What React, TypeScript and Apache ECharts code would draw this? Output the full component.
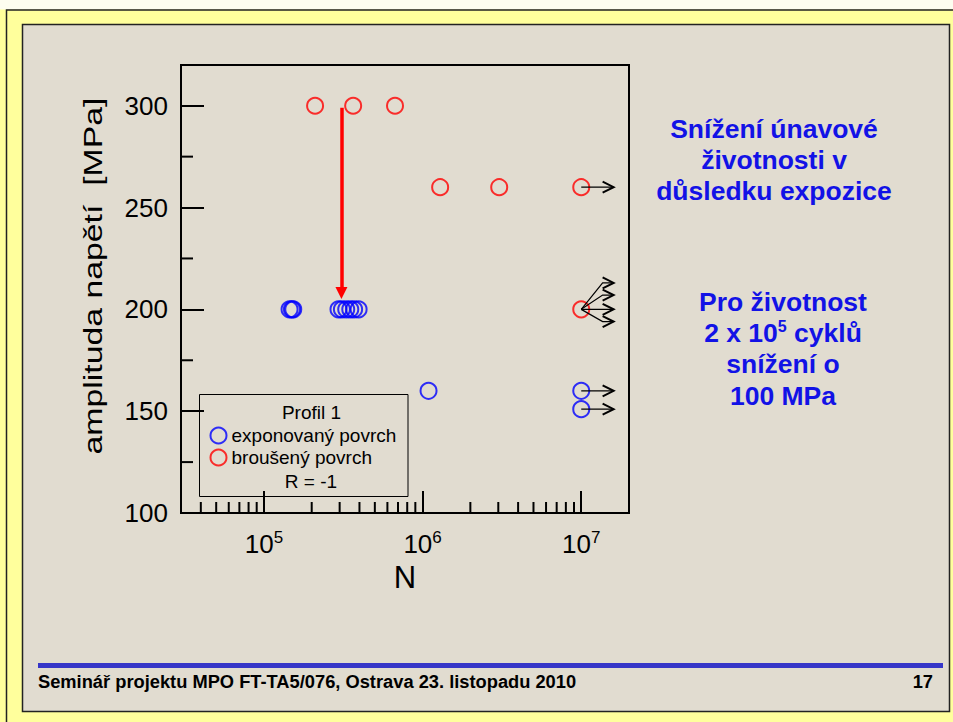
import React, { useEffect, useRef } from 'react';
import * as echarts from 'echarts';

const FONT = 'Arial, "Liberation Sans", Helvetica, sans-serif';

// ---- data ----
const exponovanyN = [1.45e5, 1.5e5, 1.53e5, 2.95e5, 3.1e5, 3.3e5, 3.5e5, 3.7e5, 3.95e5, 1.09e6, 1e7, 1e7];
const exponovanyS = [200, 200, 200, 200, 200, 200, 200, 200, 200, 160, 160, 151];
const brousenyN = [2.1e5, 3.65e5, 6.7e5, 1.29e6, 3.04e6, 1e7, 1e7];
const brousenyS = [300, 300, 300, 260, 260, 260, 200];

// run-out arrows (start N, start S, tip N, tip S)
const runoutStartN = [1e7, 1e7, 1e7, 1e7, 1e7, 1e7, 1e7];
const runoutStartS = [260, 200, 200, 200, 200, 160, 151];
const runoutTipN = [1.6e7, 1.6e7, 1.6e7, 1.6e7, 1.6e7, 1.6e7, 1.6e7];
const runoutTipS = [260, 213, 207, 200, 194, 160, 151];

// red drop arrow
const dropN = 3.08e5;
const dropFromS = 299;
const dropToS = 208;

// axes
const xMin = 3e4;
const xMax = 2e7;
const yMin = 100;
const yMax = 320;
const yInterval = 50;
const xMinorTicks = [
  4e4, 5e4, 6e4, 7e4, 8e4, 9e4,
  2e5, 3e5, 4e5, 5e5, 6e5, 7e5, 8e5, 9e5,
  2e6, 3e6, 4e6, 5e6, 6e6, 7e6, 8e6, 9e6,
];
const yMinorTicks = [125, 175, 225, 275];
const yTitle = 'amplituda napětí  [MPa]';

const BLUE = '#0000ff';
const RED = '#ff0000';
const TEXT_BLUE = '#1212e6';

export default function App() {
  const ref = useRef<HTMLDivElement>(null);

  useEffect(() => {
    if (!ref.current) return;
    const chart = echarts.init(ref.current, undefined, { renderer: 'svg' });

    const center = { align: 'center', verticalAlign: 'middle', textAlign: 'center', textVerticalAlign: 'middle' };

    const option: any = {
      animation: false,
      backgroundColor: '#ffff9c',
      textStyle: { fontFamily: FONT },
      grid: {
        left: 181,
        top: 65,
        width: 448,
        height: 448,
        show: true,
        borderColor: '#000',
        borderWidth: 2,
        backgroundColor: 'transparent',
        containLabel: false,
      },
      xAxis: {
        type: 'log',
        logBase: 10,
        min: xMin,
        max: xMax,
        name: 'N',
        nameLocation: 'middle',
        nameGap: 49,
        nameTextStyle: { fontFamily: FONT, fontSize: 31, color: '#000' },
        axisLine: { show: true, lineStyle: { color: '#000', width: 2 } },
        axisTick: { show: true, inside: true, length: 22, lineStyle: { color: '#000', width: 2 } },
        minorTick: { show: false },
        splitLine: { show: false },
        axisLabel: {
          margin: 16,
          color: '#000',
          showMinLabel: false,
          showMaxLabel: false,
          formatter: (v: number) => {
            const e = Math.log10(v);
            if (Math.abs(e - Math.round(e)) > 1e-6) return '';
            return '{b|10}{s|' + Math.round(e) + '}';
          },
          rich: {
            b: { fontFamily: FONT, fontSize: 26, color: '#000', lineHeight: 30 },
            s: { fontFamily: FONT, fontSize: 17, color: '#000', lineHeight: 17, verticalAlign: 'top' },
          },
        },
      },
      yAxis: {
        type: 'value',
        min: yMin,
        max: yMax,
        interval: yInterval,
        axisLine: { show: true, lineStyle: { color: '#000', width: 2 } },
        axisTick: { show: true, inside: true, length: 23, lineStyle: { color: '#000', width: 2 } },
        minorTick: { show: false },
        splitLine: { show: false },
        axisLabel: {
          margin: 13,
          color: '#000',
          fontFamily: FONT,
          fontSize: 26,
          formatter: (v: number) => (v > 300 ? '' : String(v)),
        },
      },
      legend: {
        selectedMode: false,
        orient: 'vertical',
        left: 209.5,
        top: 426,
        padding: 0,
        itemGap: 3,
        itemWidth: 16,
        itemHeight: 16,
        textStyle: { fontFamily: FONT, fontSize: 19, color: '#000' },
        data: [
          { name: 'exponovaný povrch', icon: 'circle', itemStyle: { color: 'rgba(0,0,0,0)', borderColor: BLUE, borderWidth: 2 } },
          { name: 'broušený povrch', icon: 'circle', itemStyle: { color: 'rgba(0,0,0,0)', borderColor: RED, borderWidth: 2 } },
        ],
      },
      series: [
        {
          name: 'minor x ticks',
          type: 'custom',
          silent: true,
          clip: false,
          z: 3,
          data: xMinorTicks.map((v) => [v, yMin]),
          renderItem: (params: any, api: any) => {
            const p = api.coord([api.value(0), api.value(1)]);
            return {
              type: 'line',
              shape: { x1: p[0], y1: p[1], x2: p[0], y2: p[1] - 11 },
              style: { stroke: '#000', lineWidth: 2 },
            };
          },
        },
        {
          name: 'minor y ticks',
          type: 'custom',
          silent: true,
          clip: false,
          z: 3,
          data: yMinorTicks.map((v) => [xMin, v]),
          renderItem: (params: any, api: any) => {
            const p = api.coord([api.value(0), api.value(1)]);
            return {
              type: 'line',
              shape: { x1: p[0], y1: p[1], x2: p[0] + 12, y2: p[1] },
              style: { stroke: '#000', lineWidth: 2 },
            };
          },
        },
        {
          name: 'runouts',
          type: 'custom',
          silent: true,
          clip: false,
          z: 6,
          data: runoutStartN.map((n, i) => [n, runoutStartS[i], runoutTipN[i], runoutTipS[i]]),
          renderItem: (params: any, api: any) => {
            const a = api.coord([api.value(0), api.value(1)]);
            const b = api.coord([api.value(2), api.value(3)]);
            const L = 11;
            const W = 5.5;
            const base = [b[0] - L, b[1]];
            return {
              type: 'group',
              children: [
                {
                  type: 'polyline',
                  shape: { points: [[a[0], a[1]], base, [b[0], b[1]]] },
                  style: { stroke: '#000', lineWidth: 1.2, fill: 'none' },
                },
                {
                  type: 'polyline',
                  shape: { points: [[b[0] - L, b[1] - W], [b[0], b[1]], [b[0] - L, b[1] + W]] },
                  style: { stroke: '#000', lineWidth: 2, fill: 'none' },
                },
              ],
            };
          },
        },
        {
          name: 'exponovaný povrch',
          type: 'scatter',
          symbol: 'circle',
          symbolSize: 16,
          z: 4,
          itemStyle: { color: 'rgba(0,0,0,0)', borderColor: BLUE, borderWidth: 2 },
          emphasis: { disabled: true },
          data: exponovanyN.map((n, i) => [n, exponovanyS[i]]),
        },
        {
          name: 'broušený povrch',
          type: 'scatter',
          symbol: 'circle',
          symbolSize: 16,
          z: 5,
          itemStyle: { color: 'rgba(0,0,0,0)', borderColor: RED, borderWidth: 2 },
          emphasis: { disabled: true },
          data: brousenyN.map((n, i) => [n, brousenyS[i]]),
          markLine: {
            silent: true,
            symbol: ['none', 'triangle'],
            symbolSize: [12, 12],
            label: { show: false },
            emphasis: { disabled: true },
            lineStyle: { color: RED, width: 3.5, type: 'solid' },
            data: [[{ coord: [dropN, dropFromS] }, { coord: [dropN, dropToS] }]],
          },
        },
      ],
      graphic: [
        { type: 'rect', z: -10, silent: true, shape: { x: 0, y: 0, width: 953, height: 9.5 }, style: { fill: '#fdfdf0' } },
        { type: 'polyline', z: -9, silent: true, shape: { points: [[6.5, 722], [6.5, 10], [953, 10]] }, style: { stroke: '#222', lineWidth: 1.5, fill: 'none' } },
        { type: 'rect', z: -8, silent: true, shape: { x: 22.5, y: 24.5, width: 927, height: 687 }, style: { fill: '#e1dcd0', stroke: '#222', lineWidth: 1.5 } },
        { type: 'rect', z: -7, silent: true, shape: { x: 38, y: 663, width: 905, height: 5 }, style: { fill: '#3636c8' } },
        // y-axis title (stretched along its length as in the slide)
        {
          type: 'text', silent: true, x: 93, y: 276, rotation: Math.PI / 2, scaleX: 1.3, scaleY: 1,
          style: { text: yTitle, fontFamily: FONT, fontSize: 26, fill: '#000', ...center },
        },
        {
          type: 'text', silent: true, x: 38, y: 681,
          style: { text: 'Seminář projektu MPO FT-TA5/076, Ostrava 23. listopadu 2010', fontFamily: FONT, fontSize: 18.3, fontWeight: 'bold', fill: '#000', align: 'left', verticalAlign: 'middle', textAlign: 'left', textVerticalAlign: 'middle' },
        },
        {
          type: 'text', silent: true, x: 933, y: 681,
          style: { text: '17', fontFamily: FONT, fontSize: 18.3, fontWeight: 'bold', fill: '#000', align: 'right', verticalAlign: 'middle', textAlign: 'right', textVerticalAlign: 'middle' },
        },
        // legend box
        { type: 'rect', silent: true, z: 2, shape: { x: 199.5, y: 394.5, width: 208.5, height: 102 }, style: { fill: 'none', stroke: '#000', lineWidth: 1 } },
        {
          type: 'text', silent: true, x: 311.5, y: 412,
          style: { text: 'Profil 1', fontFamily: FONT, fontSize: 19, fill: '#000', ...center },
        },
        {
          type: 'text', silent: true, x: 311, y: 481,
          style: { text: 'R = -1', fontFamily: FONT, fontSize: 19, fill: '#000', ...center },
        },
        // right-hand notes
        ...['Snížení únavové', 'životnosti v', 'důsledku expozice'].map((t, i) => ({
          type: 'text', silent: true, x: 774, y: 128.5 + i * 31,
          style: { text: t, fontFamily: FONT, fontSize: 26.5, fontWeight: 'bold', fill: TEXT_BLUE, ...center },
        })),
        {
          type: 'text', silent: true, x: 783, y: 302,
          style: { text: 'Pro životnost', fontFamily: FONT, fontSize: 26.5, fontWeight: 'bold', fill: TEXT_BLUE, ...center },
        },
        {
          type: 'text', silent: true, x: 783, y: 333,
          style: {
            text: '{n|2 x 10}{s|5}{n| cyklů}',
            fontFamily: FONT, fontSize: 26.5, fontWeight: 'bold', fill: TEXT_BLUE,
            ...center,
            rich: {
              n: { fontFamily: FONT, fontSize: 26.5, fontWeight: 'bold', fill: TEXT_BLUE, color: TEXT_BLUE, lineHeight: 30 },
              s: { fontFamily: FONT, fontSize: 16, fontWeight: 'bold', fill: TEXT_BLUE, color: TEXT_BLUE, lineHeight: 16, verticalAlign: 'top' },
            },
          },
        },
        {
          type: 'text', silent: true, x: 783, y: 364,
          style: { text: 'snížení o', fontFamily: FONT, fontSize: 26.5, fontWeight: 'bold', fill: TEXT_BLUE, ...center },
        },
        {
          type: 'text', silent: true, x: 783, y: 396,
          style: { text: '100 MPa', fontFamily: FONT, fontSize: 26.5, fontWeight: 'bold', fill: TEXT_BLUE, ...center },
        },
      ],
    };

    chart.setOption(option);
    return () => {
      chart.dispose();
    };
  }, []);

  return <div ref={ref} style={{ position: 'absolute', left: 0, top: 0, width: 953, height: 722 }} />;
}
